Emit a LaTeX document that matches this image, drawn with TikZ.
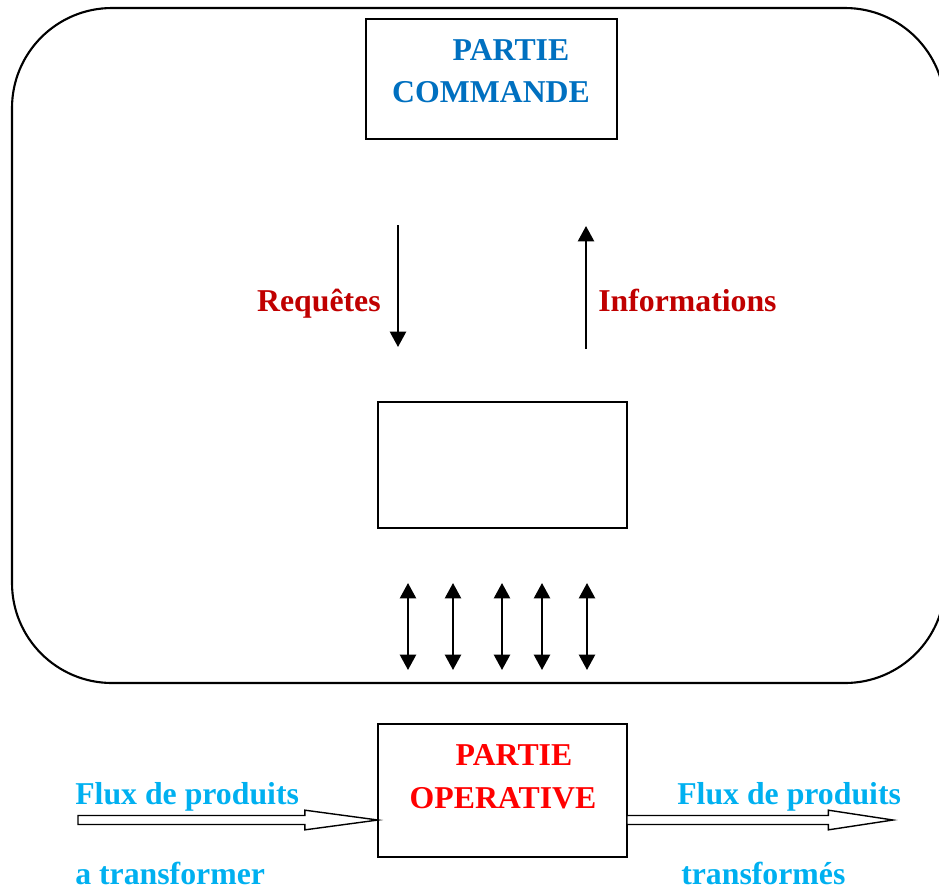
\documentclass[tikz,border=0pt]{standalone}
\usepackage{fontspec}
\setmainfont{Liberation Serif}
\usetikzlibrary{calc}
\usetikzlibrary{arrows.meta}
\definecolor{cmdblue}{HTML}{0070C0}
\definecolor{oprred}{HTML}{FF0000}
\definecolor{sigred}{HTML}{C00000}
\definecolor{fluxcyan}{HTML}{00B0F0}
\newcommand{\fluxarrow}[3]{%
\draw[line width=1pt, fill=white] let \p1=(#1), \p2=(#2) in
(\x1,\y1+3.2pt) -- (\x2-#3,\y1+3.2pt) -- (\x2-#3,\y1+7pt) -- (\x2,\y1) -- (\x2-#3,\y1-7pt) -- (\x2-#3,\y1-3.2pt) -- (\x1,\y1-3.2pt) -- cycle;}
\tikzset{
box/.style = {draw, line width=1.4pt, inner sep=0pt, outer sep=0pt},
txt/.style = {font=\fontsize{22.6}{30}\selectfont\bfseries, inner sep=0pt},
sig/.style = {line width=1.6pt, -{Triangle[width=11.5pt,length=11pt]}},
bisig/.style = {line width=1.6pt, {Triangle[width=11.5pt,length=11pt]}-{Triangle[width=11.5pt,length=11pt]}}
}
\begin{document}
\begin{tikzpicture}[x=0.025cm, y=-0.025cm]
\useasboundingbox (0,0) rectangle (939,890);
\clip (0,0) rectangle (939,890);
\draw[line width=1.5pt, rounded corners=2.5cm] (12,8) rectangle (945,683);
\node[box, minimum width=6.275cm, minimum height=3cm] (pc) at (491.5,79) {};
\node[txt, text=cmdblue, anchor=base] (pcA) at (511,60) {PARTIE};
\node[txt, text=cmdblue, anchor=base] (pcB) at (491,102) {COMMANDE};
\node[box, minimum width=6.225cm, minimum height=3.15cm] (mid) at (502.5,465) {};
\node[box, minimum width=6.225cm, minimum height=3.325cm] (po) at (502.5,790.5) {};
\node[txt, text=oprred, anchor=base] (poA) at (514,765) {PARTIE};
\node[txt, text=oprred, anchor=base] (poB) at (503,808) {OPERATIVE};
\coordinate (req1) at (398,225);
\coordinate (req2) at (398,347);
\coordinate (inf1) at (586,349);
\coordinate (inf2) at (586,226);
\draw[sig] (req1) -- (req2);
\draw[sig] (inf1) -- (inf2);
\node[txt, text=sigred, anchor=base east] (req) at (381,311) {Requêtes};
\node[txt, text=sigred, anchor=base west] (inf) at (598,311) {Informations};
\foreach \x [count=\i] in {408,453,502,542,587} {
\coordinate (e\i) at (\x,583);
\coordinate (s\i) at (\x,670);
\draw[bisig] (e\i) -- (s\i);
}
\coordinate (fin) at (78,820);
\coordinate (fout) at (893,820);
\fluxarrow{fin}{po.west |- fin}{52pt}
\fluxarrow{po.east |- fout}{fout}{46pt}
\node[txt, text=fluxcyan, anchor=base west] (fluxA) at (75,804) {Flux de produits};
\node[txt, text=fluxcyan, anchor=base west] (fluxB) at (75,884) {a transformer};
\node[txt, text=fluxcyan, anchor=base west] (fluxC) at (677,804) {Flux de produits};
\node[txt, text=fluxcyan, anchor=base west] (fluxD) at (681,884) {transformés};
\end{tikzpicture}
\end{document}
